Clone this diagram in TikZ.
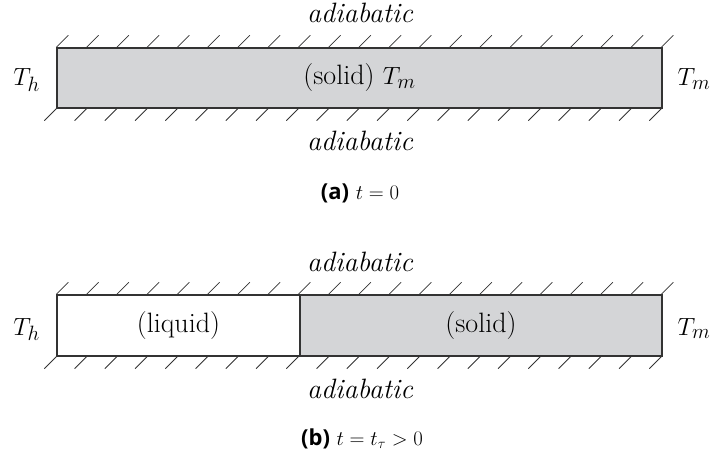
\documentclass[tikz,border=0pt]{standalone}
\usepackage{fontspec}
\newfontfamily\capfont{Open Sans}
\usetikzlibrary{calc}
\definecolor{barline}{RGB}{51,51,51}
\definecolor{solidgray}{RGB}{212,213,215}
\begin{document}
\begin{tikzpicture}[x=1pt,y=-1pt,
  bar/.style={draw=barline,line width=1.4pt,minimum height=60pt,inner sep=0pt,
    font=\fontsize{28}{32}\selectfont},
  hatch/.style={draw=barline,line width=0.8pt},
  lbl/.style={font=\fontsize{28}{32}\selectfont,anchor=base,inner sep=0pt},
  captext/.style={font=\fontsize{22}{26}\selectfont,anchor=base,inner sep=0pt}]
\useasboundingbox (0,0) rectangle (712,462);

% ---------- (a) ----------
\node[bar,fill=solidgray,minimum width=605pt] (barA) at (359.5,78) {(solid) $T_m$};
\foreach \i in {0,...,20}{
  \draw[hatch] ($(barA.north west)+(\i*30.25,0)$) -- ++(12,-12);
  \draw[hatch] ($(barA.south west)+(\i*30.25,0)$) -- ++(-12,12);
}
\node[lbl] (adA1) at (360,23) {\itshape adiabatic};
\node[lbl] (adA2) at (360,151) {\itshape adiabatic};
\node[lbl] (ThA) at (26.5,86) {$T_h$};
\node[lbl] (TmA) at (694,86) {$T_m$};
\node[captext] (capA) at (360,200) {{\capfont\bfseries (a)} $t=0$};

% ---------- (b) ----------
\node[bar,fill=white,minimum width=243pt,minimum height=61pt] (liq) at (178.5,325.5) {(liquid)};
\node[bar,fill=solidgray,minimum width=362pt,minimum height=61pt] (sol) at (481,325.5) {(solid)};
\foreach \i in {0,...,20}{
  \draw[hatch] ($(liq.north west)+(\i*30.25,0)$) -- ++(12,-12);
  \draw[hatch] ($(liq.south west)+(\i*30.25,0)$) -- ++(-12,12);
}
\node[lbl] (adB1) at (360,272) {\itshape adiabatic};
\node[lbl] (adB2) at (360,398) {\itshape adiabatic};
\node[lbl] (ThB) at (26.5,335) {$T_h$};
\node[lbl] (TmB) at (694,335) {$T_m$};
\node[captext] (capB) at (362,445) {{\capfont\bfseries (b)} $t=t_\tau>0$};
\end{tikzpicture}
\end{document}
